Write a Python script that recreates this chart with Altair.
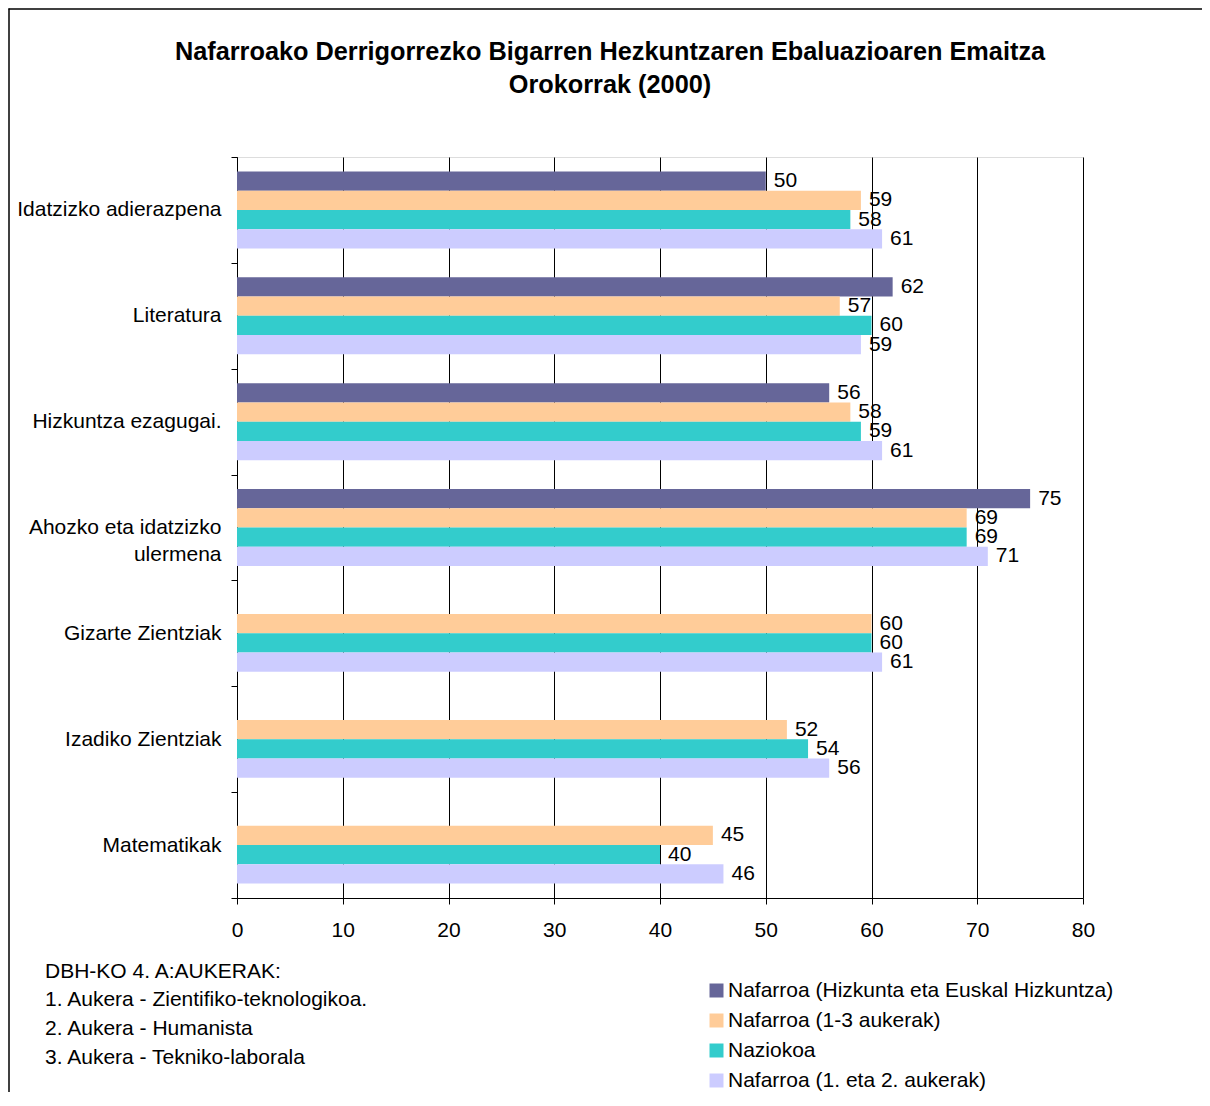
import altair as alt
import pandas as pd

FONT = "Liberation Sans"

TITLE_LINES = ["Nafarroako Derrigorrezko Bigarren Hezkuntzaren Ebaluazioaren Emaitza",
               "Orokorrak (2000)"]
CATEGORIES = ["Idatzizko adierazpena", "Literatura", "Hizkuntza ezagugai.",
              "Ahozko eta idatzizko ulermena", "Gizarte Zientziak",
              "Izadiko Zientziak", "Matematikak"]
SERIES = ["Nafarroa (Hizkunta eta Euskal Hizkuntza)", "Nafarroa (1-3 aukerak)",
          "Naziokoa", "Nafarroa (1. eta 2. aukerak)"]
COLORS = ["#666699", "#FFCC99", "#33CCCC", "#CCCCFF"]
VAL_HIZKUNTZA = [50, 62, 56, 75, None, None, None]
VAL_1_3 = [59, 57, 58, 69, 60, 52, 45]
VAL_NAZIOKOA = [58, 60, 59, 69, 60, 54, 40]
VAL_1_2 = [61, 59, 61, 71, 61, 56, 46]
X_TICKS = [0, 10, 20, 30, 40, 50, 60, 70, 80]
NOTE_LINES = ["DBH-KO 4. A:AUKERAK:", "1. Aukera - Zientifiko-teknologikoa.",
              "2. Aukera - Humanista", "3. Aukera - Tekniko-laborala"]

rows = []
for s, vals in zip(SERIES, [VAL_HIZKUNTZA, VAL_1_3, VAL_NAZIOKOA, VAL_1_2]):
    for c, v in zip(CATEGORIES, vals):
        if v is not None:
            rows.append({"category": c, "series": s, "value": v})
df = pd.DataFrame(rows)

FS = 21

y_enc = alt.Y("category:N", sort=CATEGORIES,
              scale=alt.Scale(domain=CATEGORIES, paddingInner=0, paddingOuter=0),
              axis=alt.Axis(title=None, tickBand="extent", labelFontSize=FS, labelFont=FONT,
                            labelColor="#000", labelPadding=10, tickSize=6, tickColor="#000",
                            domainColor="#000", grid=False, labelLineHeight=27,
                            labelLimit=400,
                            labelExpr="datum.label == 'Ahozko eta idatzizko ulermena' ? ['Ahozko eta idatzizko', 'ulermena'] : datum.label"))
yoff = alt.YOffset("series:N", sort=SERIES,
                   scale=alt.Scale(domain=SERIES, paddingInner=0, paddingOuter=0.75))
x_enc = alt.X("value:Q", scale=alt.Scale(domain=[0, 80], nice=False),
              axis=alt.Axis(title=None, values=X_TICKS, grid=True, gridColor="#000",
                            gridOpacity=1, gridWidth=1, labelFontSize=FS, labelFont=FONT,
                            labelColor="#000", tickSize=6, tickColor="#000",
                            domainColor="#000", labelPadding=15, labelFlush=False))

base = alt.Chart(df)
bars = base.mark_bar().encode(
    y=y_enc, yOffset=yoff, x=x_enc,
    color=alt.Color("series:N", sort=SERIES,
                    scale=alt.Scale(domain=SERIES, range=COLORS),
                    legend=alt.Legend(title=None, orient="none", legendX=469, legendY=823,
                                      symbolType="square", symbolSize=196,
                                      symbolStrokeWidth=0, labelFontSize=FS, labelFont=FONT,
                                      labelColor="#000", labelOffset=1, rowPadding=8,
                                      labelLimit=600, padding=0, symbolOpacity=1)),
)
labels = base.mark_text(align="left", baseline="middle", dx=8, fontSize=FS,
                        font=FONT, color="#000").encode(
    y=y_enc, yOffset=yoff, x=x_enc, text=alt.Text("value:Q"))

one = pd.DataFrame({"k": [0]})
title = alt.Chart(one).mark_text(text=TITLE_LINES, align="center", baseline="middle",
                                 fontSize=25.3, fontWeight="bold", font=FONT,
                                 lineHeight=33, color="#000").encode(
    x=alt.value(373), y=alt.value(-105))
note = alt.Chart(one).mark_text(text=NOTE_LINES, align="left", baseline="alphabetic",
                                fontSize=FS, font=FONT, lineHeight=28.7,
                                color="#000").encode(
    x=alt.value(-192), y=alt.value(820.5))
border_top = alt.Chart(one).mark_rule(color="#000", strokeWidth=1.5).encode(
    x=alt.value(-228.5), x2=alt.value(965), y=alt.value(-148))
border_left = alt.Chart(one).mark_rule(color="#000", strokeWidth=1.5).encode(
    x=alt.value(-228), y=alt.value(-148.5), y2=alt.value(935))

chart = alt.layer(bars, labels, title, note, border_top, border_left).properties(
    width=846, height=741,
    autosize=alt.AutoSizeParams(type="none"),
    padding={"left": 229, "top": 149, "right": 119, "bottom": 194},
).configure_view(stroke="#000", strokeWidth=1).configure(background="white")

chart.save("out.html", embed_options={"renderer": "svg", "actions": False})
